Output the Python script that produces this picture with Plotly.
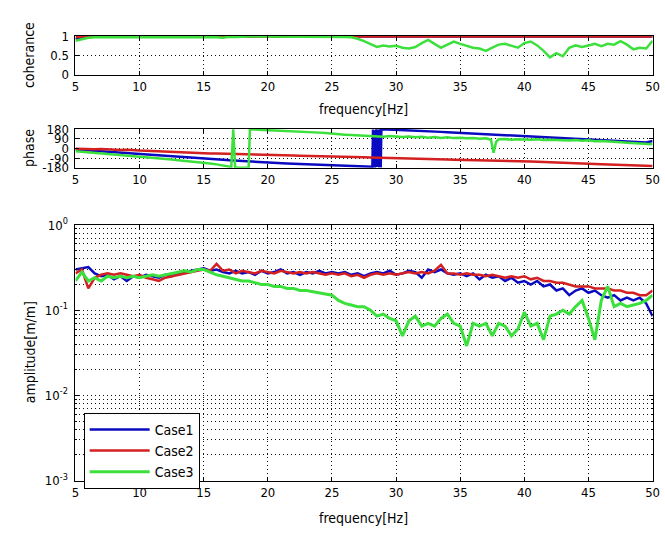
import plotly.graph_objects as go

# ---------------- data ----------------
freq = [5.0 + 0.5 * i for i in range(91)]

amp_case1 = [
    0.30, 0.31, 0.32, 0.27, 0.25, 0.26, 0.23, 0.25, 0.22, 0.25,
    0.24, 0.26, 0.25, 0.24, 0.26, 0.25, 0.27, 0.28, 0.29, 0.30,
    0.31, 0.29, 0.30, 0.28, 0.27, 0.29, 0.27, 0.28, 0.26, 0.29,
    0.27, 0.28, 0.30, 0.27, 0.28, 0.26, 0.28, 0.27, 0.29, 0.27,
    0.28, 0.27, 0.28, 0.26, 0.27, 0.25, 0.27, 0.28, 0.27, 0.29,
    0.26, 0.27, 0.29, 0.28, 0.24, 0.30, 0.28, 0.30, 0.27, 0.26,
    0.27, 0.25, 0.27, 0.23, 0.26, 0.24, 0.25, 0.22, 0.24, 0.21,
    0.22, 0.20, 0.22, 0.19, 0.20, 0.17, 0.18, 0.15, 0.17, 0.18,
    0.16, 0.17, 0.15, 0.14, 0.15, 0.13, 0.14, 0.13, 0.14, 0.12,
    0.085]
amp_case2 = [
    0.27, 0.30, 0.18, 0.24, 0.26, 0.27, 0.26, 0.27, 0.26, 0.25,
    0.26, 0.24, 0.23, 0.22, 0.24, 0.25, 0.26, 0.27, 0.28, 0.29,
    0.30, 0.29, 0.35, 0.29, 0.30, 0.27, 0.29, 0.28, 0.27, 0.29,
    0.28, 0.27, 0.29, 0.28, 0.27, 0.28, 0.27, 0.28, 0.27, 0.26,
    0.27, 0.26, 0.27, 0.25, 0.26, 0.24, 0.26, 0.27, 0.26, 0.27,
    0.26, 0.27, 0.28, 0.27, 0.28, 0.27, 0.29, 0.34, 0.27, 0.27,
    0.26, 0.27, 0.26, 0.26, 0.25, 0.26, 0.25, 0.24, 0.25, 0.24,
    0.25, 0.23, 0.24, 0.22, 0.22, 0.21, 0.21, 0.20, 0.19, 0.19,
    0.19, 0.18, 0.18, 0.18, 0.17, 0.17, 0.16, 0.16, 0.15, 0.15,
    0.17]
amp_case3 = [
    0.22, 0.28, 0.22, 0.24, 0.22, 0.25, 0.24, 0.25, 0.24, 0.25,
    0.24, 0.25, 0.26, 0.25, 0.26, 0.27, 0.28, 0.29, 0.28, 0.30,
    0.30, 0.28, 0.26, 0.25, 0.24, 0.23, 0.22, 0.22, 0.21, 0.20,
    0.20, 0.19, 0.19, 0.18, 0.18, 0.17, 0.17, 0.165, 0.16, 0.155,
    0.15, 0.13, 0.12, 0.115, 0.11, 0.11, 0.10, 0.085, 0.09, 0.08,
    0.075, 0.05, 0.075, 0.085, 0.065, 0.07, 0.065, 0.08, 0.09, 0.07,
    0.065, 0.038, 0.07, 0.065, 0.07, 0.05, 0.07, 0.065, 0.05, 0.06,
    0.095, 0.065, 0.07, 0.045, 0.085, 0.09, 0.10, 0.09, 0.11, 0.13,
    0.08, 0.045, 0.13, 0.19, 0.11, 0.12, 0.11, 0.115, 0.12, 0.13,
    0.15]

coh_case1 = [
    0.92, 0.97, 0.99, 0.99, 0.98, 0.99, 0.99, 0.99, 0.98, 0.99,
    0.99, 0.99, 0.99, 0.98, 0.99, 0.99, 0.99, 0.99, 0.99, 0.99,
    0.99, 0.99, 0.98, 0.99, 0.99, 0.99, 0.99, 0.99, 0.99, 0.99,
    0.99, 0.99, 0.99, 0.99, 0.99, 0.99, 0.99, 0.99, 0.99, 0.99,
    0.99, 0.99, 0.99, 0.99, 0.99, 0.99, 0.99, 0.99, 0.99, 0.99,
    0.99, 0.99, 0.99, 0.99, 0.99, 0.99, 0.99, 0.99, 0.99, 0.99,
    0.99, 0.99, 0.99, 0.99, 0.99, 0.99, 0.99, 0.99, 0.99, 0.99,
    0.99, 0.99, 0.99, 0.99, 0.99, 0.99, 0.99, 0.99, 0.99, 0.99,
    0.99, 0.99, 0.99, 0.99, 0.99, 0.99, 0.99, 0.99, 0.99, 0.99,
    0.99]
coh_case2 = [
    0.97, 0.99, 0.99, 0.99, 0.99, 0.99, 0.99, 0.99, 0.99, 0.99,
    0.99, 0.99, 0.99, 0.99, 0.99, 0.99, 0.99, 0.99, 0.99, 0.99,
    0.99, 0.99, 0.99, 0.99, 0.99, 0.99, 0.99, 0.99, 0.99, 0.99,
    0.99, 0.99, 0.99, 0.99, 0.99, 0.99, 0.99, 0.99, 0.99, 0.99,
    0.99, 0.99, 0.99, 0.99, 0.99, 0.99, 0.99, 0.99, 0.99, 0.99,
    0.99, 0.99, 0.99, 0.99, 0.99, 0.99, 0.99, 0.99, 0.99, 0.99,
    0.99, 0.99, 0.99, 0.99, 0.99, 0.99, 0.99, 0.99, 0.99, 0.99,
    0.99, 0.99, 0.99, 0.99, 0.99, 0.99, 0.99, 0.99, 0.99, 0.99,
    0.99, 0.99, 0.99, 0.99, 0.99, 0.99, 0.99, 0.99, 0.99, 0.99,
    0.99]
coh_case3 = [
    0.88, 0.93, 0.96, 0.97, 0.97, 0.98, 0.97, 0.98, 0.98, 0.97,
    0.98, 0.98, 0.97, 0.98, 0.98, 0.98, 0.97, 0.98, 0.98, 0.98,
    0.98, 0.98, 0.97, 0.96, 0.98, 0.98, 0.99, 0.99, 0.99, 0.99,
    0.99, 0.99, 0.99, 0.99, 0.98, 0.99, 0.99, 0.99, 0.98, 0.98,
    0.99, 0.98, 0.98, 0.97, 0.93, 0.87, 0.80, 0.72, 0.76, 0.73,
    0.75, 0.70, 0.68, 0.72, 0.82, 0.90, 0.80, 0.70, 0.78, 0.86,
    0.80, 0.75, 0.70, 0.68, 0.62, 0.70, 0.78, 0.80, 0.74, 0.70,
    0.82, 0.86, 0.76, 0.62, 0.45, 0.56, 0.48, 0.70, 0.76, 0.72,
    0.76, 0.80, 0.74, 0.80, 0.78, 0.87, 0.78, 0.66, 0.70, 0.68,
    0.88]

phase_case2 = [
    -2, -5, -3, -8, -6, -10, -8, -14, -12, -18,
    -20, -22, -25, -27, -30, -33, -35, -38, -40, -42,
    -45, -47, -48, -50, -52, -54, -55, -57, -58, -60,
    -61, -62, -64, -65, -66, -67, -68, -70, -71, -72,
    -73, -75, -77, -79, -81, -83, -85, -87, -88, -90,
    -92, -93, -95, -96, -97, -99, -100, -101, -103, -104,
    -105, -107, -108, -110, -111, -112, -113, -114, -116, -117,
    -118, -121, -124, -127, -130, -132, -134, -136, -138, -140,
    -142, -144, -146, -148, -150, -152, -154, -156, -158, -160,
    -163]

freq_ph1 = [
    5.0, 5.5, 6.0, 6.5, 7.0, 7.5, 8.0, 8.5, 9.0, 9.5,
    10.0, 10.5, 11.0, 11.5, 12.0, 12.5, 13.0, 13.5, 14.0, 14.5,
    15.0, 15.5, 16.0, 16.5, 17.0, 17.5, 18.0, 18.5, 19.0, 19.5,
    20.0, 20.5, 21.0, 21.5, 22.0, 22.5, 23.0, 23.5, 24.0, 24.5,
    25.0, 25.5, 26.0, 26.5, 27.0, 27.5, 28.0,
    28.15, 28.2, 28.25, 28.3, 28.35, 28.45, 28.5, 28.6, 28.7, 28.75, 28.8, 28.85,
    29.0, 29.5, 30.0, 30.5, 31.0, 31.5, 32.0, 32.5, 33.0, 33.5,
    34.0, 34.5, 35.0, 35.5, 36.0, 36.5, 37.0, 37.5, 38.0, 38.5,
    39.0, 39.5, 40.0, 40.5, 41.0, 41.5, 42.0, 42.5, 43.0, 43.5,
    44.0, 44.5, 45.0, 45.5, 46.0, 46.5, 47.0, 47.5, 48.0, 48.5,
    49.0, 49.5, 50.0]
phase_case1 = [
    -10, -14, -17, -20, -24, -27, -31, -35, -40, -45,
    -50, -55, -59, -63, -67, -71, -75, -79, -84, -88,
    -92, -97, -101, -105, -110, -114, -118, -122, -126, -130,
    -133, -136, -138, -140, -142, -144, -146, -148, -150, -151,
    -152, -154, -156, -158, -160, -162, -164,
    -170, 175, -175, 170, -178, 178, -172, 176, -176, 178, -178, 179,
    178, 176, 174, 172, 169, 166, 163, 160, 157, 154,
    151, 148, 145, 142, 139, 136, 133, 130, 127, 124,
    121, 119, 117, 114, 111, 107, 104, 101, 98, 95,
    92, 89, 86, 83, 80, 77, 73, 70, 67, 64,
    60, 56, 70]

freq_ph3 = [
    5.0, 5.5, 6.0, 6.5, 7.0, 7.5, 8.0, 8.5, 9.0, 9.5,
    10.0, 10.5, 11.0, 11.5, 12.0, 12.5, 13.0, 13.5, 14.0, 14.5,
    15.0, 15.5, 16.0, 16.5, 17.0, 17.15, 17.3, 17.45, 17.6, 18.0,
    18.5, 18.6, 19.0, 19.5, 20.0, 20.5, 21.0, 21.5, 22.0, 22.5,
    23.0, 23.5, 24.0, 24.5, 25.0, 25.5, 26.0, 26.5, 27.0, 27.5,
    28.0, 28.5, 29.0, 29.5, 30.0, 30.5, 31.0, 31.5, 32.0, 32.5,
    33.0, 33.5, 34.0, 34.5, 35.0, 35.5, 36.0, 36.5, 37.0, 37.4,
    37.6, 37.8, 38.0, 38.5, 39.0, 39.5, 40.0, 40.5, 41.0, 41.5,
    42.0, 42.5, 43.0, 43.5, 44.0, 44.5, 45.0, 45.5, 46.0, 46.5,
    47.0, 47.5, 48.0, 48.5, 49.0, 49.5, 50.0]
phase_case3 = [
    -25, -30, -34, -38, -42, -47, -52, -57, -62, -67,
    -73, -79, -85, -91, -97, -103, -109, -114, -120, -126,
    -132, -140, -148, -156, -164, -172, 178, -176, -178, -178,
    -179, 178, 174, 172, 170, 167, 165, 162, 160, 157,
    154, 150, 147, 143, 140, 134, 128, 124, 120, 118,
    116, 112, 108, 115, 112, 106, 110, 104, 108, 100,
    106, 98, 104, 96, 100, 94, 98, 90, 94, 80,
    -40, 60, 85, 88, 80, 86, 84, 80, 85, 78,
    80, 76, 79, 74, 78, 72, 75, 68, 70, 64,
    60, 58, 54, 50, 45, 40, 38]

case_names = ["Case1", "Case2", "Case3"]
colors = ["#0a0ac0", "#d42020", "#3ce03c"]

x_ticks = [5, 10, 15, 20, 25, 30, 35, 40, 45, 50]
coh_ticks = [0, 0.5, 1]
phase_ticks = [-180, -90, 0, 90, 180]
amp_ticks = [0.001, 0.01, 0.1, 1]
amp_ticktext = ["10<sup>-3</sup>", "10<sup>-2</sup>", "10<sup>-1</sup>", "10<sup>0</sup>"]

# ---------------- figure ----------------
W, H = 665, 537
fig = go.Figure()

coh = [coh_case1, coh_case2, coh_case3]
for i in range(3):
    fig.add_trace(go.Scatter(x=freq, y=coh[i], mode="lines", xaxis="x", yaxis="y",
                             line=dict(color=colors[i], width=2.5), showlegend=False))

ph_x = [freq_ph1, freq, freq_ph3]
ph_y = [phase_case1, phase_case2, phase_case3]
for i in range(3):
    fig.add_trace(go.Scatter(x=ph_x[i], y=ph_y[i], mode="lines", xaxis="x2", yaxis="y2",
                             line=dict(color=colors[i], width=2.5), showlegend=False))

amp = [amp_case1, amp_case2, amp_case3]
for i in range(3):
    fig.add_trace(go.Scatter(x=freq, y=amp[i], mode="lines", xaxis="x3", yaxis="y3",
                             name=case_names[i],
                             line=dict(color=colors[i], width=2.5 if i < 2 else 3)))

def px_x(p):
    return p / W

def px_y(p):
    return 1 - p / H

xdom = [px_x(72.7), px_x(659.5)]
font = dict(family="Liberation Sans Narrow, DejaVu Sans Condensed, Arial Narrow, sans-serif",
            size=13, color="black")

GRID = dict(showgrid=True, gridcolor="#111111", griddash="1px,3px", gridwidth=1)
axis_common = dict(showline=True, linecolor="black", linewidth=1, mirror="ticks",
                   ticks="inside", ticklen=4, tickcolor="black",
                   zeroline=False, tickfont=font, ticklabeloverflow="allow", **GRID)

fig.update_layout(
    width=W, height=H, margin=dict(l=0, r=0, t=0, b=0),
    paper_bgcolor="white", plot_bgcolor="white",
    font=font,
    xaxis=dict(domain=xdom, range=[5, 50], tickvals=x_ticks, anchor="y", **axis_common),
    yaxis=dict(domain=[px_y(68), px_y(28)], range=[0, 1], tickvals=coh_ticks,
               ticktext=["0", "0.5", "1"], anchor="x", ticklabelstandoff=3, **axis_common),
    xaxis2=dict(domain=xdom, range=[5, 50], tickvals=x_ticks, anchor="y2", **axis_common),
    yaxis2=dict(domain=[px_y(164), px_y(124)], range=[-180, 180], tickvals=phase_ticks,
                ticktext=["-180", "-90", "0", "90", "180"], anchor="x2",
                ticklabelstandoff=3, **axis_common),
    xaxis3=dict(domain=xdom, range=[5, 50], tickvals=x_ticks, anchor="y3", **axis_common),
    yaxis3=dict(domain=[px_y(487), px_y(223)], type="log", range=[-3, 0],
                tickvals=amp_ticks, ticktext=amp_ticktext, anchor="x3",
                ticklabelstandoff=4,
                minor=dict(dtick="D1", ticks="inside", ticklen=2, tickcolor="black", **GRID),
                **axis_common),
    legend=dict(x=px_x(81), y=px_y(417), xanchor="left", yanchor="top",
                bgcolor="white", bordercolor="black", borderwidth=1,
                font=dict(family=font["family"], size=14, color="black"),
                itemwidth=60, tracegroupgap=0),
)

title_font = dict(family=font["family"], size=14, color="black")
annots = [
    dict(text="coherance", x=px_x(26), y=px_y(48), textangle=-90),
    dict(text="phase", x=px_x(26), y=px_y(144), textangle=-90),
    dict(text="amplitude[m/m]", x=px_x(26), y=px_y(355), textangle=-90),
    dict(text="frequency[Hz]", x=px_x(366), y=px_y(103), textangle=0),
    dict(text="frequency[Hz]", x=px_x(366), y=px_y(526), textangle=0),
]
for a in annots:
    fig.add_annotation(xref="paper", yref="paper", showarrow=False,
                       xanchor="center", yanchor="middle", font=title_font, **a)

fig.write_html("out.html")
